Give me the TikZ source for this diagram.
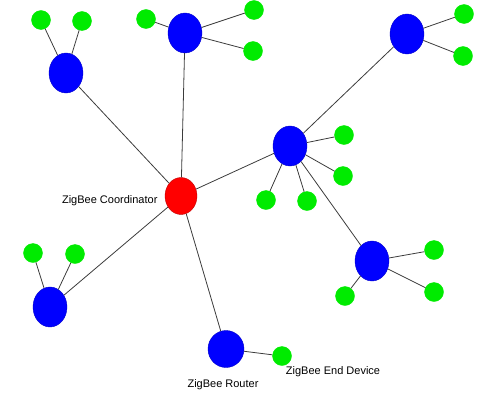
\documentclass[tikz,border=0pt]{standalone}
\usepackage{fontspec}
\setmainfont{Liberation Sans}
\usetikzlibrary{shapes}
\definecolor{linkgray}{RGB}{60,60,60}
\definecolor{devgreen}{RGB}{0,235,0}
\newcommand{\ZB}[1]{\fontsize{11}{13}\selectfont #1}

\tikzset{
  coord/.style={ellipse, fill=red, draw=red!75!black, minimum width=32pt, minimum height=37pt, inner sep=0pt},
  router/.style={ellipse, fill=blue, draw=blue!80!black, minimum width=34pt, minimum height=40pt, inner sep=0pt},
  enddev/.style={ellipse, fill=devgreen, draw=devgreen, minimum width=19pt, minimum height=19pt, inner sep=0pt},
  link/.style={draw=linkgray, line width=0.8pt}
}

\begin{document}
\begin{tikzpicture}[x=1pt, y=-1pt]
  \useasboundingbox (0,0) rectangle (500,407);

  % coordinator
  \node[coord] (C) at (181,196) {};
  \node[anchor=east] (Clbl) at (161,201) {\ZB{ZigBee Coordinator}};

  % routers
  \node[router] (R1) at (66,73) {};
  \node[router] (R2) at (185,33) {};
  \node[router] (R3) at (407,34) {};
  \node[router] (R4) at (290,146) {};
  \node[router] (R5) at (372,261) {};
  \node[router] (R6) at (50,307) {};
  \node[router, minimum width=36pt, minimum height=37pt] (R7) at (226,349) {};
  \node (R7lbl) at (223,385) {\ZB{ZigBee Router}};

  % end devices
  \node[enddev] (E11) at (41,20) {};
  \node[enddev] (E12) at (82,21) {};
  \node[enddev] (E21) at (146,19) {};
  \node[enddev] (E22) at (254,10) {};
  \node[enddev] (E23) at (253,51) {};
  \node[enddev] (E31) at (464,14) {};
  \node[enddev] (E32) at (463,56) {};
  \node[enddev] (E41) at (344,135) {};
  \node[enddev] (E42) at (343,176) {};
  \node[enddev] (E43) at (266,200) {};
  \node[enddev] (E44) at (307,201) {};
  \node[enddev] (E51) at (434,250) {};
  \node[enddev] (E52) at (434,292) {};
  \node[enddev] (E53) at (345,296) {};
  \node[enddev] (E61) at (33,253) {};
  \node[enddev] (E62) at (75,254) {};
  \node[enddev] (E71) at (282,356) {};
  \node (E71lbl) at (333,372) {\ZB{ZigBee End Device}};

  % links
  \draw[link] (C) -- (R1); %% C->R1
  \draw[link] (C) -- (R2); %% C->R2
  \draw[link] (C) -- (R4); %% C->R4
  \draw[link] (C) -- (R6); %% C->R6
  \draw[link] (C) -- (R7); %% C->R7
  \draw[link] (R4) -- (R3); %% R4->R3
  \draw[link] (R4) -- (R5); %% R4->R5

  \draw[link] (R1) -- (E11);
  \draw[link] (R1) -- (E12);
  \draw[link] (R2) -- (E21);
  \draw[link] (R2) -- (E22);
  \draw[link] (R2) -- (E23);
  \draw[link] (R3) -- (E31);
  \draw[link] (R3) -- (E32);
  \draw[link] (R4) -- (E41);
  \draw[link] (R4) -- (E42);
  \draw[link] (R4) -- (E43);
  \draw[link] (R4) -- (E44);
  \draw[link] (R5) -- (E51);
  \draw[link] (R5) -- (E52);
  \draw[link] (R5) -- (E53);
  \draw[link] (R6) -- (E61);
  \draw[link] (R6) -- (E62);
  \draw[link] (R7) -- (E71);

\end{tikzpicture}
\end{document}
